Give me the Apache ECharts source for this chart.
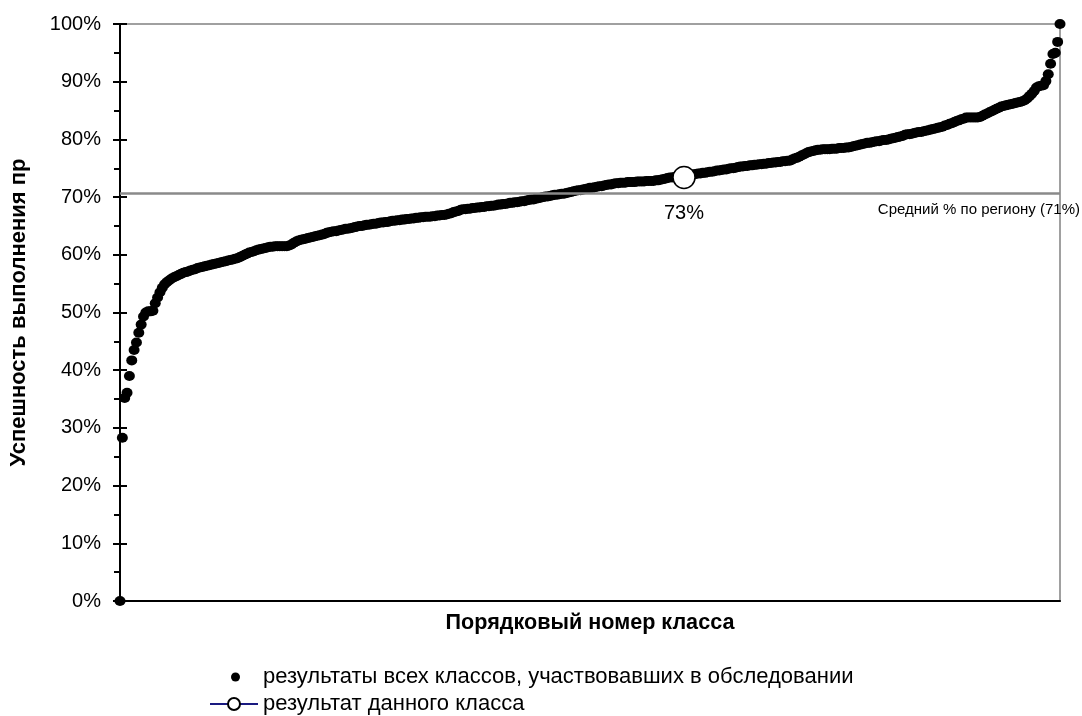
<!DOCTYPE html>
<html>
<head>
<meta charset="utf-8">
<script src="https://cdn.jsdelivr.net/npm/echarts@6/dist/echarts.min.js"></script>
<style>
html, body { margin: 0; padding: 0; background: #fff; }
#chart { width: 1082px; height: 716px; }
</style>
</head>
<body>
<div id="chart"></div>
<script>
// результаты всех классов, отсортированы по возрастанию (%)
var classResults = [
    0, 28.3, 35.2, 36.1, 39.0, 41.7, 43.5, 44.8, 46.5, 47.9, 49.3, 50.0,
    50.2, 50.2, 50.3, 51.6, 52.6, 53.5, 54.3, 54.9,
    55.3, 55.6, 55.9, 56.1,
    56.3, 56.5, 56.7, 56.9, 57.0, 57.1,
    57.3, 57.4, 57.5, 57.7, 57.8,
    57.9, 58.0, 58.1, 58.2, 58.3, 58.4, 58.5, 58.6, 58.7,
    58.8, 58.9, 59.0, 59.1, 59.2, 59.3, 59.4,
    59.6, 59.8, 60.0, 60.2, 60.4,
    60.5, 60.6, 60.8, 60.9, 61.0, 61.1, 61.2, 61.3,
    61.4, 61.4, 61.5, 61.5, 61.5, 61.5, 61.5, 61.5, 61.6,
    61.8, 62.1, 62.3, 62.5, 62.6, 62.7,
    62.8, 62.9, 63.0, 63.1, 63.2, 63.3, 63.4, 63.5, 63.6, 63.8, 63.9,
    64.0, 64.1, 64.1, 64.2, 64.3, 64.4, 64.5, 64.5, 64.6, 64.7, 64.8, 64.9,
    65.0, 65.0, 65.1, 65.2, 65.2, 65.3, 65.4, 65.4, 65.5, 65.6, 65.6, 65.7, 65.7, 65.8,
    65.9, 65.9, 66.0, 66.0, 66.1, 66.1, 66.2, 66.2, 66.3, 66.3, 66.4, 66.4, 66.5, 66.5,
    66.6, 66.6, 66.6, 66.7, 66.7, 66.8, 66.8, 66.9, 66.9, 67.0,
    67.1, 67.2, 67.4, 67.5, 67.6, 67.8, 67.9,
    67.9, 68.0, 68.0, 68.1, 68.1, 68.2, 68.2, 68.3, 68.3, 68.4, 68.4,
    68.5, 68.5, 68.6, 68.7, 68.7, 68.8, 68.8, 68.9, 69.0, 69.0, 69.1, 69.1, 69.2, 69.3,
    69.3, 69.4, 69.5, 69.6, 69.6, 69.7, 69.8, 69.9, 70.0,
    70.1, 70.1, 70.2, 70.3, 70.4, 70.4, 70.5, 70.6, 70.6, 70.7, 70.8, 70.9, 71.0,
    71.1, 71.2, 71.2, 71.3, 71.4, 71.5, 71.6, 71.6, 71.7, 71.8, 71.9, 71.9, 72.0, 72.1, 72.2, 72.2, 72.3, 72.4,
    72.4, 72.5, 72.5, 72.5, 72.6, 72.6, 72.6, 72.6, 72.7, 72.7, 72.7, 72.7, 72.8, 72.8, 72.8, 72.8, 72.9,
    72.9, 73.0, 73.1, 73.2, 73.3, 73.4,
    73.4, 73.5, 73.5, 73.6, 73.6, 73.7,
    73.8, 73.8, 73.9, 73.9, 74.0,
    74.1, 74.1, 74.2, 74.2, 74.3, 74.4, 74.4, 74.5, 74.6, 74.6, 74.7, 74.8, 74.8, 74.9, 75.0, 75.0, 75.1, 75.2, 75.3,
    75.3, 75.4, 75.4, 75.5, 75.5, 75.6, 75.6, 75.7, 75.7, 75.8, 75.8, 75.9, 75.9, 76.0,
    76.0, 76.1, 76.1, 76.2, 76.2, 76.3, 76.3,
    76.5, 76.7, 76.8, 77.0,
    77.2, 77.4, 77.6, 77.8, 77.9, 78.0, 78.1, 78.2, 78.2, 78.3,
    78.3, 78.3, 78.3, 78.4, 78.4, 78.4, 78.5, 78.5, 78.5, 78.6, 78.6,
    78.7, 78.8, 78.9, 79.0, 79.1, 79.2, 79.3, 79.4, 79.4, 79.5, 79.6, 79.7, 79.7, 79.8, 79.9, 79.9, 80.0,
    80.1, 80.2, 80.3, 80.4, 80.5, 80.6, 80.8, 80.9,
    80.9, 81.0, 81.1, 81.2, 81.3, 81.3, 81.4, 81.5, 81.6, 81.7, 81.8, 81.9, 82.0, 82.1,
    82.2, 82.4, 82.5, 82.7, 82.8, 83.0, 83.2, 83.3, 83.5, 83.6, 83.8,
    83.8, 83.8, 83.8, 83.8, 83.8, 83.9,
    84.1, 84.3, 84.5, 84.7, 84.9, 85.1, 85.3, 85.5,
    85.7, 85.8, 85.9, 86.0, 86.1, 86.2, 86.3, 86.4, 86.5, 86.6,
    86.8, 87.1, 87.5, 87.9, 88.4, 89.0, 89.2, 89.3, 89.4,
    90.1, 91.3, 93.1, 94.8, 95.0, 96.9, 100
];

// результат данного класса
var thisClassNo = 241;
var thisClassValue = 73.4;
var thisClassLabel = '73%';

// средний % по региону
var regionAvg = 70.6;

var seriesNames = [
    'результаты всех классов, участвовавших в обследовании',
    'результат данного класса'
];
var xAxisName = 'Порядковый номер класса';
var yAxisName = 'Успешность выполнения пр';

var font = '"Liberation Sans", Arial, sans-serif';

var allData = classResults.map(function(v, i) {
    return [i + 1, v];
});

var chart = echarts.init(document.getElementById('chart'));

var option = {
    backgroundColor: '#fff',
    animation: false,
    textStyle: { fontFamily: font },
    grid: {
        left: 120,
        right: 22,
        top: 24,
        bottom: 115,
        show: true,
        borderColor: '#a0a0a0',
        borderWidth: 2
    },
    legend: [
        {
            data: [seriesNames[0]],
            left: 226,
            top: 661,
            itemWidth: 9,
            itemHeight: 9,
            icon: 'circle',
            itemStyle: { opacity: 1 },
            textStyle: { fontSize: 22, color: '#000', fontFamily: font, padding: [0, 0, 0, 18] }
        },
        {
            data: [seriesNames[1]],
            left: 204,
            top: 688,
            itemWidth: 48,
            itemHeight: 15,
            textStyle: { fontSize: 22, color: '#000', fontFamily: font }
        }
    ],
    xAxis: {
        type: 'value',
        min: 1,
        max: classResults.length,
        name: xAxisName,
        nameLocation: 'middle',
        nameGap: 11,
        nameTextStyle: { fontSize: 21.6, fontWeight: 'bold', color: '#000', fontFamily: font },
        axisLine: { lineStyle: { color: '#000', width: 2 } },
        axisTick: { show: false },
        axisLabel: { show: false },
        splitLine: { show: false }
    },
    yAxis: [
        {
            type: 'value',
            min: 0,
            max: 100,
            interval: 10,
            name: yAxisName,
            nameLocation: 'middle',
            nameRotate: 90,
            nameGap: 90,
            nameTextStyle: { fontSize: 22, fontWeight: 'bold', color: '#000', fontFamily: font },
            axisLine: { show: true, lineStyle: { color: '#000', width: 2 } },
            axisTick: { show: true, length: 7, lineStyle: { color: '#000', width: 2 } },
            minorTick: { show: true, splitNumber: 2, length: 6, lineStyle: { color: '#000', width: 2 } },
            axisLabel: { formatter: '{value}%', fontSize: 20, color: '#000', margin: 19, fontFamily: font },
            splitLine: { show: false }
        },
        {
            type: 'value',
            min: 0,
            max: 100,
            interval: 10,
            position: 'left',
            axisLine: { show: false },
            axisTick: { show: true, inside: true, length: 7, lineStyle: { color: '#000', width: 2 } },
            axisLabel: { show: false },
            splitLine: { show: false }
        }
    ],
    series: [
        {
            name: 'avg',
            type: 'line',
            data: [],
            z: 1,
            markLine: {
                silent: true,
                symbol: 'none',
                lineStyle: { color: '#8a8a8a', width: 2.5, type: 'solid' },
                label: {
                    position: 'insideEndBottom',
                    formatter: 'Средний % по региону (' + Math.round(regionAvg) + '%)',
                    fontSize: 15,
                    color: '#000',
                    fontFamily: font,
                    offset: [25, 4]
                },
                data: [{ yAxis: regionAvg }]
            }
        },
        {
            name: seriesNames[0],
            type: 'scatter',
            data: allData,
            symbol: 'circle',
            symbolSize: [11, 10],
            itemStyle: { color: '#000', opacity: 1 },
            z: 2
        },
        {
            name: seriesNames[1],
            type: 'line',
            data: [[thisClassNo, thisClassValue]],
            symbol: 'circle',
            symbolSize: 22,
            itemStyle: { color: '#fff', borderColor: '#000', borderWidth: 1.5 },
            lineStyle: { color: '#1a1a80', width: 2 },
            label: {
                show: true,
                position: 'bottom',
                distance: 14,
                formatter: thisClassLabel,
                fontSize: 20,
                color: '#000',
                fontFamily: font
            },
            z: 3
        }
    ]
};

chart.setOption(option);
</script>
</body>
</html>
